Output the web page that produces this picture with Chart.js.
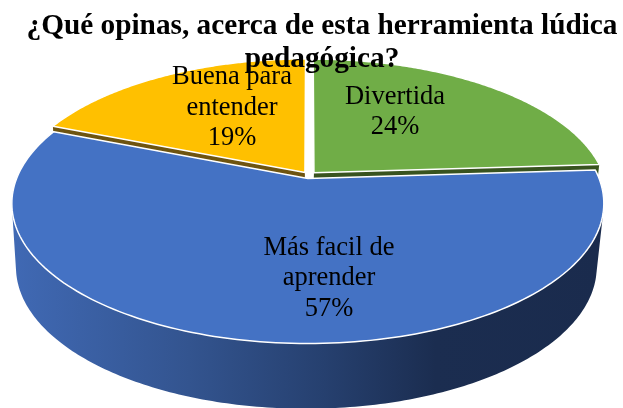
<!DOCTYPE html>
<html>
<head>
<meta charset="utf-8">
<style>html,body{margin:0;padding:0;background:#fff}canvas{display:block}</style>
<script src="https://cdn.jsdelivr.net/npm/chart.js@4/dist/chart.umd.min.js"></script>
</head>
<body>
<canvas id="c" width="623" height="408"></canvas>
<script>
const categories = ['Divertida', 'Más facil de aprender', 'Buena para entender'];
const values = [24, 57, 19];
const percentLabels = ['24%', '57%', '19%'];
const labelLines = [['Divertida'], ['Más facil de', 'aprender'], ['Buena para', 'entender']];
const titleLines = ['¿Qué opinas, acerca de esta herramienta lúdica', 'pedagógica?'];
const colors = ['#70AD47', '#4472C4', '#FFC000'];
const wallColors = ['#38531F', '#22396A', '#6E5410'];

// perspective view of the pie plane
const view = {k: 0.177, explode: 0.025};
const topPlane = {X: 309, Y: 175.2, A: 290, B: 134.5};
const basePlane = {X: 307.5, Y: 238.5, A: 284.5, B: 136};
const labelCentres = [[395, 97], [329, 248], [232, 77.5]];
const labelFont = '26.5px "Liberation Serif"';
const labelStep = 30.5;

function project(plane, u, v) {
  const w = 1 + view.k * v;
  return [plane.X + plane.A * u / w, plane.Y - plane.B * v / w];
}
function rim(arc, steps) {
  const mid = (arc.startAngle + arc.endAngle) / 2;
  const du = view.explode * Math.cos(mid), dv = -view.explode * Math.sin(mid);
  const pts = [];
  for (let i = 0; i <= steps; i++) {
    const a = arc.startAngle + (arc.endAngle - arc.startAngle) * i / steps;
    pts.push([du + Math.cos(a), dv - Math.sin(a)]);
  }
  return {pts, apex: [du, dv]};
}
function trace(ctx, pts) {
  pts.forEach((p, i) => i ? ctx.lineTo(p[0], p[1]) : ctx.moveTo(p[0], p[1]));
}
function signedArea(q) {
  let s = 0;
  q.forEach((p, i) => { const r = q[(i + 1) % q.length]; s += p[0] * r[1] - r[0] * p[1]; });
  return s;
}

const pie3d = {
  id: 'pie3d',
  beforeDraw(chart) {
    const ctx = chart.ctx;
    const arcs = chart.getDatasetMeta(0).data;
    const order = [2, 0, 1];
    ctx.save();
    // radial walls of the two back slices, seen through the gaps
    [0, 2].forEach(idx => {
      const g = rim(arcs[idx], 2);
      const edge = idx === 0 ? g.pts[g.pts.length - 1] : g.pts[0];
      const a = project(topPlane, g.apex[0], g.apex[1]), b = project(topPlane, edge[0], edge[1]);
      const c = project(basePlane, edge[0], edge[1]), d = project(basePlane, g.apex[0], g.apex[1]);
      ctx.beginPath(); trace(ctx, [a, b, c, d]); ctx.closePath();
      ctx.fillStyle = wallColors[idx]; ctx.fill();
    });
    // outer wall of the front slice, swept along its rim as one path
    const front = rim(arcs[1], 240);
    const grad = ctx.createLinearGradient(13, 0, 600, 0);
    grad.addColorStop(0, '#4069B4');
    grad.addColorStop(0.3, '#33548F');
    grad.addColorStop(0.53, '#26406F');
    grad.addColorStop(0.72, '#1B2D50');
    grad.addColorStop(1, '#1A2B4D');
    ctx.beginPath();
    for (let i = 0; i < front.pts.length - 1; i++) {
      const p = front.pts[i], r = front.pts[i + 1];
      let quad = [project(topPlane, p[0], p[1]), project(topPlane, r[0], r[1]),
                  project(basePlane, r[0], r[1]), project(basePlane, p[0], p[1])];
      if (signedArea(quad) < 0) quad = quad.reverse();
      trace(ctx, quad);
      ctx.closePath();
    }
    ctx.fillStyle = grad; ctx.fill('nonzero');
    // top faces
    order.forEach(idx => {
      const g = rim(arcs[idx], 160);
      const pts = [project(topPlane, g.apex[0], g.apex[1])].concat(g.pts.map(p => project(topPlane, p[0], p[1])));
      ctx.beginPath(); trace(ctx, pts); ctx.closePath();
      ctx.fillStyle = arcs[idx].options.backgroundColor; ctx.fill();
      ctx.strokeStyle = '#FFFFFF'; ctx.lineWidth = 1.5; ctx.lineJoin = 'round'; ctx.stroke();
    });
    ctx.restore();
  },
  beforeDatasetDraw() { return false; },
  afterDraw(chart) {
    const ctx = chart.ctx;
    ctx.save();
    ctx.font = labelFont; ctx.fillStyle = '#000'; ctx.textAlign = 'center'; ctx.textBaseline = 'middle';
    labelLines.forEach((lines, i) => {
      lines.concat(percentLabels[i]).forEach((t, j) => {
        ctx.fillText(t, labelCentres[i][0], labelCentres[i][1] + j * labelStep);
      });
    });
    ctx.restore();
  }
};

new Chart(document.getElementById('c'), {
  type: 'pie',
  data: {labels: categories, datasets: [{data: values, backgroundColor: colors, borderWidth: 0}]},
  plugins: [pie3d],
  options: {
    responsive: false,
    animation: false,
    layout: {padding: {left: 21, top: 10}},
    plugins: {
      legend: {display: false},
      tooltip: {enabled: false},
      title: {
        display: true,
        text: titleLines,
        color: '#000',
        font: {family: '"Liberation Serif"', size: 29.3, weight: 'bold', lineHeight: 1.13},
        padding: 0
      }
    }
  }
});
</script>
</body>
</html>
